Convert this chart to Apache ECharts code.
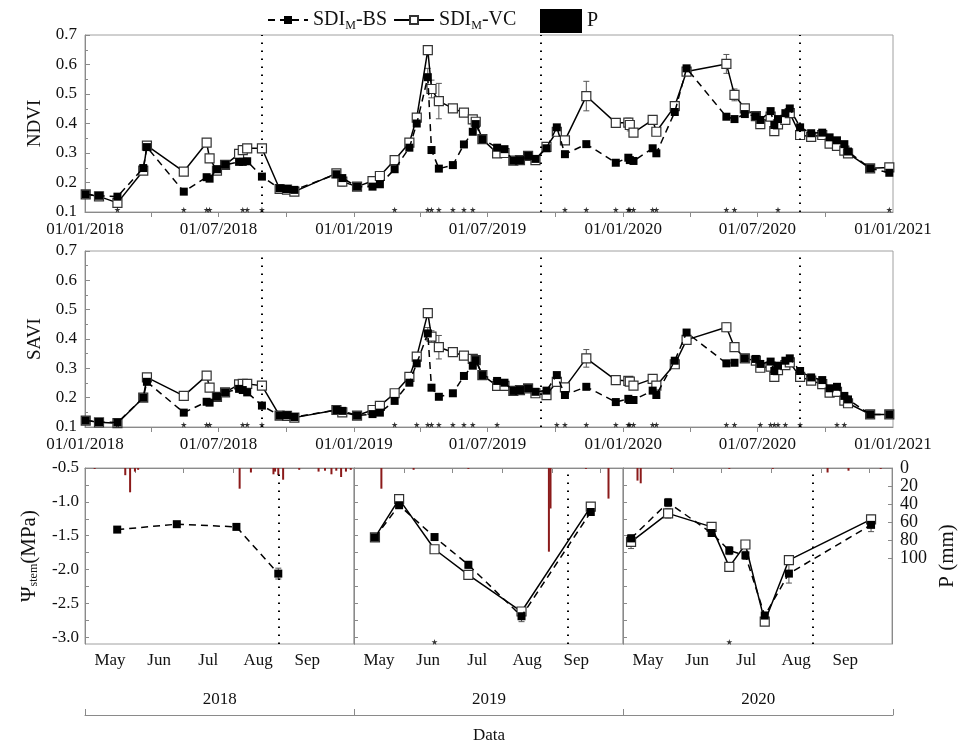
<!DOCTYPE html>
<html><head><meta charset="utf-8">
<script src="https://cdn.jsdelivr.net/npm/echarts@6/dist/echarts.min.js"></script>
<style>html,body{margin:0;padding:0;background:#fff}#c{width:966px;height:746px}</style>
</head><body><div id="c"></div>
<script>
// ---------- DATA ----------
const dates = ['2018-01-02','2018-01-20','2018-02-14','2018-03-21','2018-03-26','2018-05-15','2018-06-15','2018-06-19','2018-06-29','2018-07-10',
'2018-07-29','2018-08-03','2018-08-09','2018-08-29','2018-09-22','2018-10-02','2018-10-12','2018-12-08','2018-12-16','2019-01-05',
'2019-01-26','2019-02-05','2019-02-25','2019-03-17','2019-03-27','2019-04-11','2019-04-16','2019-04-26','2019-05-15','2019-05-30',
'2019-06-11','2019-06-15','2019-06-24','2019-07-14','2019-07-24','2019-08-05','2019-08-14','2019-08-25','2019-09-04','2019-09-19',
'2019-10-03','2019-10-14','2019-11-12','2019-12-22','2020-01-08','2020-01-10','2020-01-15','2020-02-10','2020-02-15','2020-03-11',
'2020-03-27','2020-05-20','2020-05-31','2020-06-14','2020-06-29','2020-07-05','2020-07-19','2020-07-24','2020-07-29','2020-08-08',
'2020-08-14','2020-08-28','2020-09-12','2020-09-27','2020-10-07','2020-10-17','2020-10-27','2020-11-01','2020-12-01','2020-12-27'];
const ndviBS = [0.160,0.155,0.152,0.249,0.320,0.169,0.218,0.213,0.245,0.260,
0.270,0.270,0.272,0.220,0.180,0.178,0.175,0.228,0.215,0.186,
0.186,0.194,0.245,0.318,0.400,0.557,0.310,0.247,0.259,0.329,
0.372,0.398,0.347,0.318,0.313,0.274,0.276,0.290,0.280,0.316,
0.387,0.296,0.330,0.267,0.284,0.276,0.273,0.316,0.299,0.439,
0.587,0.423,0.415,0.432,0.425,0.412,0.442,0.395,0.415,0.435,
0.451,0.387,0.367,0.369,0.353,0.343,0.330,0.305,0.248,0.233];
const ndviVC = [0.160,0.153,0.131,0.240,0.325,0.237,0.335,0.282,0.240,0.260,
0.297,0.310,0.316,0.316,0.178,0.176,0.169,0.231,0.203,0.186,
0.205,0.222,0.276,0.335,0.420,0.649,0.517,0.476,0.451,0.437,
0.414,0.406,0.347,0.299,0.300,0.274,0.276,0.290,0.276,0.321,
0.372,0.343,0.493,0.402,0.403,0.395,0.369,0.412,0.372,0.459,
0.576,0.602,0.497,0.451,0.425,0.398,0.423,0.374,0.397,0.412,
0.435,0.361,0.355,0.361,0.332,0.324,0.308,0.299,0.248,0.251];
const saviBS = [0.122,0.117,0.115,0.200,0.254,0.149,0.186,0.183,0.203,0.218,
0.230,0.226,0.218,0.173,0.139,0.140,0.134,0.158,0.155,0.139,
0.144,0.149,0.189,0.251,0.317,0.419,0.234,0.203,0.215,0.274,
0.309,0.328,0.277,0.257,0.251,0.223,0.226,0.232,0.220,0.224,
0.277,0.209,0.237,0.185,0.196,0.192,0.192,0.224,0.209,0.326,
0.422,0.317,0.319,0.334,0.332,0.315,0.323,0.291,0.309,0.326,
0.334,0.291,0.269,0.260,0.232,0.237,0.206,0.194,0.143,0.143];
const saviVC = [0.122,0.116,0.113,0.200,0.269,0.206,0.275,0.234,0.203,0.218,
0.245,0.247,0.247,0.241,0.139,0.138,0.132,0.158,0.150,0.139,
0.158,0.172,0.215,0.271,0.340,0.488,0.408,0.372,0.355,0.343,
0.332,0.328,0.277,0.240,0.240,0.223,0.226,0.232,0.215,0.209,
0.254,0.235,0.334,0.260,0.257,0.255,0.241,0.264,0.241,0.314,
0.397,0.440,0.372,0.334,0.326,0.302,0.306,0.271,0.294,0.311,
0.320,0.271,0.258,0.246,0.217,0.220,0.190,0.181,0.143,0.143];
const ndviVCErr = [['2018-12-16',0.015],['2019-04-16',0.03],['2019-04-26',0.06],['2019-05-15',0.012],['2019-11-12',0.05],['2020-01-08',0.015],['2020-01-10',0.02],['2020-05-20',0.032],['2020-05-31',0.02],['2020-09-27',0.015]];
const ndviBSErr = [['2019-04-11',0.03]];
const saviVCErr = [['2019-04-16',0.02],['2019-04-26',0.04],['2019-11-12',0.03],['2020-05-20',0.015]];
const saviBSErr = [['2019-04-11',0.02]];
const ndviStars = ['2018-02-14','2018-05-15','2018-06-15','2018-06-19','2018-08-03','2018-08-09','2018-08-29','2019-02-25','2019-04-11','2019-04-16',
'2019-04-26','2019-05-15','2019-05-30','2019-06-11','2019-10-14','2019-11-12','2019-12-22','2020-01-08','2020-01-10','2020-01-15',
'2020-02-10','2020-02-15','2020-05-20','2020-05-31','2020-07-29','2020-12-27'];
const saviStars = ['2018-02-14','2018-05-15','2018-06-15','2018-06-19','2018-08-03','2018-08-09','2018-08-29','2019-02-25','2019-03-27','2019-04-11',
'2019-04-16','2019-04-26','2019-05-15','2019-05-30','2019-06-11','2019-07-14','2019-10-03','2019-10-14','2019-11-12','2019-12-22',
'2020-01-08','2020-01-10','2020-01-15','2020-02-10','2020-02-15','2020-05-20','2020-05-31','2020-07-05','2020-07-19','2020-07-24',
'2020-07-29','2020-08-08','2020-08-28','2020-10-17','2020-10-27'];
const splitDates = ['2018-08-29','2019-09-11','2020-08-27'];
const quarterTicks = ['2018-04-01','2018-07-01','2018-10-01','2019-01-01','2019-04-01','2019-07-01','2019-10-01','2020-01-01','2020-04-01','2020-07-01','2020-10-01'];
const labelDates = ['2018-01-01','2018-07-01','2019-01-01','2019-07-01','2020-01-01','2020-07-01','2021-01-01'];

const years = ['2018','2019','2020'];
const months = ['May','Jun','Jul','Aug','Sep'];
const monthStarts = ['05-01','06-01','07-01','08-01','09-01','10-01'];
const psiDates = [
 ['2018-05-21','2018-06-27','2018-08-03','2018-08-29'],
 ['2019-05-14','2019-05-29','2019-06-20','2019-07-11','2019-08-13','2019-09-25'],
 ['2020-05-06','2020-05-29','2020-06-25','2020-07-06','2020-07-16','2020-07-28','2020-08-12','2020-10-02']];
const psiBS = [[-1.41,-1.33,-1.37,-2.06],[-1.525,-1.05,-1.52,-1.93,-2.69,-1.15],[-1.54,-1.01,-1.46,-1.72,-1.79,-2.68,-2.06,-1.34]];
const psiVC = [[],[-1.525,-0.96,-1.70,-2.08,-2.62,-1.07],[-1.59,-1.17,-1.37,-1.96,-1.63,-2.77,-1.86,-1.26]];
const psiBSErr = [[0.03,0.02,0.02,0.08],[0,0.03,0.03,0.05,0.08,0.03],[0.05,0.06,0.03,0.06,0.06,0.05,0.14,0.1]];
const psiVCErr = [[],[0.02,0.03,0.02,0.03,0.03,0.03],[0.1,0.07,0.02,0.05,0.05,0.05,0.02,0.06]];
const psiStars = [[],['2019-06-20'],['2020-07-06']];
const pDates = [
 ['2018-05-07','2018-05-26','2018-05-29','2018-06-01','2018-06-03','2018-08-05','2018-08-12','2018-08-26','2018-08-27','2018-08-29','2018-09-01','2018-09-11','2018-09-23','2018-09-27','2018-10-01','2018-10-04','2018-10-07','2018-10-10','2018-10-13'],
 ['2019-05-18','2019-06-07','2019-07-11','2019-08-30','2019-08-31','2019-09-22','2019-10-06'],
 ['2020-05-10','2020-05-12','2020-05-31','2020-07-06','2020-08-02','2020-09-05','2020-09-18','2020-10-08']];
const pVals = [
 [1,8,27,4,2,23,5,7,4,8,13,2,4,3,7,3,10,4,2],
 [23,2,1,93,45,1,34],
 [14,17,1,1,1,5,3,1]];

// ---------- HELPERS ----------
const FONT = 'Liberation Serif';
const DAY = 86400000;
const ms = s => Date.UTC(+s.slice(0,4), +s.slice(5,7)-1, +s.slice(8,10));
const T0 = ms('2018-01-01');
const dTop = s => (ms(s) - T0) / DAY;
const dPanel = s => (ms(s) - ms(s.slice(0,4) + '-05-01')) / DAY;
const pad = n => (n < 10 ? '0' : '') + n;
const topLabel = v => { const d = new Date(T0 + Math.round(v) * DAY); return pad(d.getUTCDate()) + '/' + pad(d.getUTCMonth()+1) + '/' + d.getUTCFullYear(); };
const monthTickVals = monthStarts.slice(1).map(m => dPanel('2018-' + m));
const monthLblVals = months.map((m, i) => (dPanel('2018-' + monthStarts[i]) + dPanel('2018-' + monthStarts[i+1])) / 2);
const panelMax = dPanel('2018-10-15');
const grey = '#8a8a8a';
const txt = { fontFamily: FONT, fontSize: 17, color: '#111' };
const starPath = 'path://M50,0 L61,35 L98,35 L68,57 L79,91 L50,70 L21,91 L32,57 L2,35 L39,35 Z';

function errRender(params, api) {
  const x = api.value(0), lo = api.value(1), hi = api.value(2);
  const p1 = api.coord([x, hi]), p2 = api.coord([x, lo]);
  const w = 3, st = { stroke: '#555', lineWidth: 1 };
  return { type: 'group', children: [
    { type: 'line', shape: { x1: p1[0], y1: p1[1], x2: p2[0], y2: p2[1] }, style: st },
    { type: 'line', shape: { x1: p1[0]-w, y1: p1[1], x2: p1[0]+w, y2: p1[1] }, style: st },
    { type: 'line', shape: { x1: p2[0]-w, y1: p2[1], x2: p2[0]+w, y2: p2[1] }, style: st }]};
}
function errSeries(xi, yi, data) {
  return { type: 'custom', name: 'err', xAxisIndex: xi, yAxisIndex: yi, renderItem: errRender,
    encode: { x: 0, y: [1, 2] }, data: data, z: 3, silent: true };
}
const markLineStyle = v => ({ silent: true, symbol: ['none','none'], label: { show: false },
  lineStyle: { color: '#000', type: [1.5, 6.5], width: 2 }, emphasis: { disabled: true }, data: v.map(x => ({ xAxis: x })) });

function bsLine(xi, yi, data, ml) {
  const s = { type: 'line', name: 'SDIM-BS', xAxisIndex: xi, yAxisIndex: yi, data: data,
    symbol: 'rect', symbolSize: 8, z: 5,
    lineStyle: { color: '#000', width: 1.5, type: [7, 5] }, itemStyle: { color: '#000' } };
  if (ml) s.markLine = markLineStyle(ml);
  return s;
}
function vcLine(xi, yi, data) {
  return { type: 'line', name: 'SDIM-VC', xAxisIndex: xi, yAxisIndex: yi, data: data,
    symbol: 'rect', symbolSize: 9, z: 4,
    lineStyle: { color: '#000', width: 1.5 }, itemStyle: { color: '#fff', borderColor: '#333', borderWidth: 1.2 } };
}
function starSeries(xi, yi, data) {
  return { type: 'scatter', name: 'star', xAxisIndex: xi, yAxisIndex: yi, data: data,
    symbol: starPath, symbolSize: 6, itemStyle: { color: '#000' }, z: 6, silent: true };
}

// ---------- AXES ----------
const grids = [
  { left: 85, top: 35, width: 808, height: 177 },
  { left: 85, top: 251, width: 808, height: 176 },
  { left: 85, top: 468, width: 269, height: 176 },
  { left: 354, top: 468, width: 269, height: 176 },
  { left: 623, top: 468, width: 269, height: 176 },
  { left: 85, top: 700, width: 808, height: 15 }
].map((g, i) => Object.assign(g, i < 5 ? { show: true, borderColor: '#a0a0a0', borderWidth: 1, backgroundColor: 'transparent' } : {}));

const xAxes = [];
for (let g = 0; g < 2; g++) {
  xAxes.push({ gridIndex: g, type: 'value', min: 0, max: dTop('2021-01-01'),
    axisLine: { lineStyle: { color: grey } }, splitLine: { show: false },
    axisTick: { customValues: quarterTicks.map(dTop), length: 5, lineStyle: { color: grey } },
    axisLabel: Object.assign({ customValues: labelDates.map(dTop), formatter: topLabel, margin: 9, showMinLabel: true, showMaxLabel: true }, txt) });
}
for (let p = 0; p < 3; p++) {
  xAxes.push({ gridIndex: 2 + p, type: 'value', min: 0, max: panelMax,
    axisLine: { lineStyle: { color: grey } }, splitLine: { show: false },
    axisTick: { customValues: monthTickVals, length: 5, lineStyle: { color: grey } },
    axisLabel: Object.assign({ customValues: monthLblVals, formatter: v => months[monthLblVals.indexOf(v)] || '', margin: 8 }, txt) });
}
xAxes.push({ gridIndex: 5, type: 'value', min: 0, max: 3, position: 'bottom',
  axisLine: { lineStyle: { color: grey } }, splitLine: { show: false },
  axisTick: { customValues: [0, 1, 2, 3], inside: true, length: 6, lineStyle: { color: grey } },
  axisLabel: Object.assign({ customValues: [0.5, 1.5, 2.5], inside: true, margin: 7, formatter: v => years[Math.floor(v)] }, txt),
  name: 'Data', nameLocation: 'middle', nameGap: 12, nameTextStyle: txt });

const yAxes = [];
['NDVI', 'SAVI'].forEach((nm, g) => {
  yAxes.push({ gridIndex: g, type: 'value', min: 0.1, max: 0.7, interval: 0.1,
    axisLine: { show: true, lineStyle: { color: grey } }, splitLine: { show: false },
    axisTick: { inside: true, length: 5, lineStyle: { color: grey } },
    minorTick: { show: true, splitNumber: 2, length: 3, lineStyle: { color: grey } },
    axisLabel: Object.assign({ formatter: v => v.toFixed(1), margin: 8 }, txt),
    name: nm, nameLocation: 'middle', nameGap: 37, nameRotate: 90, nameTextStyle: { fontFamily: FONT, fontSize: 19, color: '#111' } });
});
const psiLblVals = [-3, -2.5, -2, -1.5, -1, -0.5];
const psiTickVals = [-3, -2.75, -2.5, -2.25, -2, -1.75, -1.5, -1.25, -1, -0.75, -0.5];
for (let p = 0; p < 3; p++) {
  yAxes.push({ gridIndex: 2 + p, type: 'value', min: -3.1, max: -0.5,
    axisLine: { show: true, lineStyle: { color: grey } }, splitLine: { show: false },
    axisTick: { customValues: psiTickVals, inside: true, length: 4, lineStyle: { color: grey } },
    axisLabel: Object.assign({ show: p === 0, customValues: psiLblVals, formatter: v => v.toFixed(1), margin: 6 }, txt),
    name: p === 0 ? '{a|Ψ}{s|stem}{a|(MPa)}' : '', nameLocation: 'middle', nameGap: 43, nameRotate: 90,
    nameTextStyle: { fontFamily: FONT, color: '#111', rich: {
      a: { fontFamily: FONT, fontSize: 21, color: '#111', lineHeight: 26 },
      s: { fontFamily: FONT, fontSize: 12, color: '#111', padding: [10, 0, 0, 0], lineHeight: 26 } } } });
  yAxes.push({ gridIndex: 2 + p, type: 'value', min: 0, max: 195.6, inverse: true, position: 'right',
    axisLine: { show: true, lineStyle: { color: grey } }, splitLine: { show: false },
    axisTick: { show: p === 2, customValues: [0, 20, 40, 60, 80, 100], inside: true, length: 4, lineStyle: { color: grey } },
    axisLabel: Object.assign({ show: p === 2, customValues: [0, 20, 40, 60, 80, 100], margin: 8 }, txt, { fontSize: 18 }),
    name: p === 2 ? 'P (mm)' : '', nameLocation: 'middle', nameGap: 45, nameRotate: 90,
    nameTextStyle: { fontFamily: FONT, fontSize: 21, color: '#111' } });
}
yAxes.push({ gridIndex: 5, type: 'value', show: false });

// ---------- SERIES ----------
const series = [];
const splitTop = splitDates.map(dTop);
function addTop(g, bs, vc, bsErr, vcErr, stars) {
  const xs = dates.map(dTop);
  series.push(vcLine(g, g, xs.map((x, i) => [x, vc[i]])));
  series.push(bsLine(g, g, xs.map((x, i) => [x, bs[i]]), splitTop));
  series.push(errSeries(g, g, vcErr.map(e => { const v = vc[dates.indexOf(e[0])]; return [dTop(e[0]), v - e[1], v + e[1]]; })));
  series.push(errSeries(g, g, bsErr.map(e => { const v = bs[dates.indexOf(e[0])]; return [dTop(e[0]), v - e[1], v + e[1]]; })));
  series.push(starSeries(g, g, stars.map(s => [dTop(s), 0.108])));
}
addTop(0, ndviBS, ndviVC, ndviBSErr, ndviVCErr, ndviStars);
addTop(1, saviBS, saviVC, saviBSErr, saviVCErr, saviStars);

for (let p = 0; p < 3; p++) {
  const xi = 2 + p, yi = 2 + 2 * p, yp = 3 + 2 * p;
  const xs = psiDates[p].map(dPanel);
  series.push({ type: 'bar', name: 'P', xAxisIndex: xi, yAxisIndex: yp, barWidth: 2,
    data: pDates[p].map((d, i) => [dPanel(d), pVals[p][i]]), itemStyle: { color: '#8b1a1a' }, z: 2, silent: true });
  if (psiVC[p].length) {
    series.push(vcLine(xi, yi, xs.map((x, i) => [x, psiVC[p][i]])));
    series.push(errSeries(xi, yi, xs.map((x, i) => [x, psiVC[p][i] - psiVCErr[p][i], psiVC[p][i] + psiVCErr[p][i]])));
  }
  series.push(bsLine(xi, yi, xs.map((x, i) => [x, psiBS[p][i]]), [dPanel(splitDates[p])]));
  series.push(errSeries(xi, yi, xs.map((x, i) => [x, psiBS[p][i] - psiBSErr[p][i], psiBS[p][i] + psiBSErr[p][i]])));
  series.push(starSeries(xi, yi, psiStars[p].map(s => [dPanel(s), -3.07])));
}

const legRich = { n: { fontFamily: FONT, fontSize: 20, color: '#111', lineHeight: 26 },
  s: { fontFamily: FONT, fontSize: 12, color: '#111', padding: [12, 0, 0, 0], lineHeight: 26 } };
const option = {
  animation: false,
  backgroundColor: '#fff',
  legend: [
    { left: 262, top: 3, itemWidth: 40, itemHeight: 10, itemGap: 6, selectedMode: false,
      data: ['SDIM-BS', 'SDIM-VC'],
      formatter: n => '{n|SDI}{s|M}{n|' + n.slice(4) + '}',
      textStyle: { rich: legRich } },
    { left: 535, top: 4, itemWidth: 42, itemHeight: 24, selectedMode: false,
      data: [{ name: 'P', icon: 'rect', itemStyle: { color: '#000' } }],
      textStyle: { fontFamily: FONT, fontSize: 20, color: '#111' } }
  ],
  grid: grids, xAxis: xAxes, yAxis: yAxes, series: series
};
const chart = echarts.init(document.getElementById('c'), null, { renderer: 'canvas' });
chart.setOption(option);
</script></body></html>
